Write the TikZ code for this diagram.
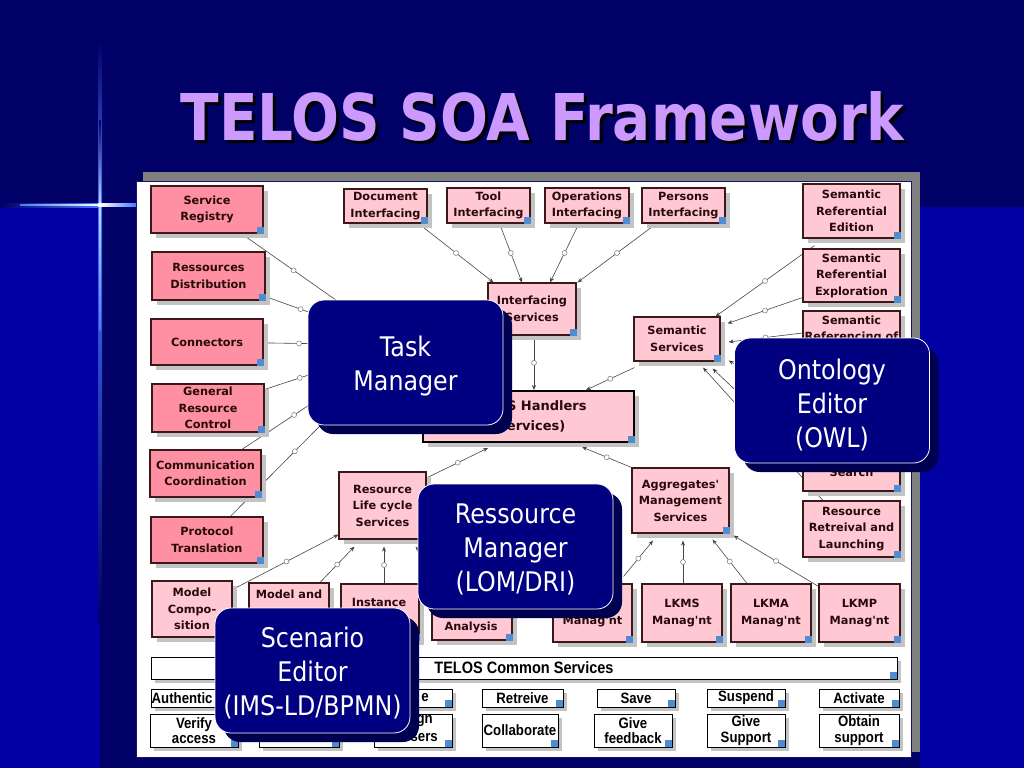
\documentclass[tikz,border=0pt]{standalone}
\usepackage{fontspec}
\usepackage{graphicx}
\usetikzlibrary{arrows.meta,shadows}
\setmainfont{DejaVu Sans}
\newfontfamily\OvFam[FakeStretch=0.88]{DejaVu Sans}
\newfontfamily\BtFam[FakeStretch=0.88]{Liberation Sans}
\newcommand\OvFont{\OvFam\fontsize{27}{34}\selectfont}
\newcommand\BxFont{\fontsize{11.3}{16.5}\selectfont\bfseries}
\newcommand\HdFont{\fontsize{13}{20}\selectfont\bfseries}
\newcommand\BtFont{\BtFam\bfseries\fontsize{15}{15.5}\selectfont}
\newcommand\TcFont{\BtFam\bfseries\fontsize{16.5}{17}\selectfont}
\newcommand\TitleFont{\fontsize{64.5}{70}\selectfont\bfseries}
\newcommand\Apos{\textquotesingle}
\definecolor{navyD}{RGB}{0,0,102}
\definecolor{blueL}{RGB}{0,0,165}
\definecolor{glowblue}{RGB}{70,120,255}
\definecolor{ovfill}{RGB}{0,0,128}
\definecolor{ovshadow}{RGB}{0,0,80}
\definecolor{pinkL}{RGB}{255,200,210}
\definecolor{pinkD}{RGB}{255,143,163}
\definecolor{bxborder}{RGB}{60,25,25}
\definecolor{bxtext}{RGB}{40,10,10}
\definecolor{cornerblue}{RGB}{80,140,210}
\definecolor{titlecol}{RGB}{204,153,255}
\definecolor{connc}{RGB}{70,70,70}
\definecolor{dotc}{RGB}{120,120,120}
\definecolor{framegray}{RGB}{128,128,128}
\definecolor{frameline}{RGB}{20,20,110}
\definecolor{shadowgray}{RGB}{195,195,195}
\pgfdeclarelayer{back}
\pgfdeclarelayer{lines}
\pgfdeclarelayer{front}
\pgfsetlayers{back,lines,main,front}
\tikzset{
  pbox/.style={draw=bxborder, line width=1.1pt, fill=pinkL, text=bxtext, font=\BxFont,
    align=center, inner sep=0pt,
    drop shadow={shadow xshift=5pt, shadow yshift=-5pt, fill=shadowgray, opacity=1}},
  dbox/.style={pbox, fill=pinkD},
  wbox/.style={draw=black, line width=0.9pt, fill=white, text=black, font=\BtFont,
    align=center, inner sep=0pt,
    drop shadow={shadow xshift=4pt, shadow yshift=-4pt, fill=shadowgray, opacity=1}},
  frag/.style={text=bxtext, font=\BxFont, align=center, inner sep=0pt},
  wfrag/.style={text=black, font=\BtFont, inner sep=0pt},
  ovbox/.style={rounded corners=16pt, fill=ovfill, draw=white, line width=0.8pt,
    inner sep=0pt, minimum width=195pt, minimum height=125pt,
    drop shadow={shadow xshift=9pt, shadow yshift=-9pt, fill=ovshadow, opacity=1}},
  ovtext/.style={text=white, font=\OvFont, align=center, inner sep=0pt},
  conline/.style={draw=connc, line width=0.6pt},
  arr/.style={conline, -{Stealth[length=5pt,width=4pt]}},
  dot/.style={circle, draw=dotc, fill=white, minimum size=5pt, inner sep=0pt, line width=0.5pt}
}
\begin{document}
\begin{tikzpicture}[x=1pt,y=-1pt]
\useasboundingbox (0,0) rectangle (1024,768);
\begin{pgfonlayer}{back}
\fill[navyD] (0,0) rectangle (1024,768);
\fill[blueL] (0,205) rectangle (100,768);
\fill[blueL] (920,207) rectangle (1024,768);
% glow lines
\shade[top color=navyD, bottom color=glowblue] (98,40) rectangle (102,205);
\shade[top color=glowblue, bottom color=navyD] (98,205) rectangle (102,620);
\shade[top color=navyD, bottom color=white!70!glowblue] (99.3,120) rectangle (100.7,205);
\shade[top color=white!70!glowblue, bottom color=glowblue] (99.3,205) rectangle (100.7,330);
\shade[left color=navyD, right color=glowblue] (0,203) rectangle (100,207);
\shade[left color=glowblue, right color=white] (20,204.3) rectangle (100,205.7);
\shade[left color=white, right color=glowblue] (100,203.5) rectangle (136,206.5);
\fill[white] (100,205) circle (2.5);
% diagram frame
\fill[framegray] (143,172) rectangle (920,752);
\filldraw[fill=white, draw=frameline, line width=0.7pt] (136,181) rectangle (911,757);
\end{pgfonlayer}

% title
\node[anchor=base, text=black, inner sep=0pt] (titleS) at (545.5,143) {\TitleFont\scalebox{0.875}[1]{TELOS SOA Framework}};
\node[anchor=base, text=titlecol, inner sep=0pt] (title) at (542.5,140) {\TitleFont\scalebox{0.875}[1]{TELOS SOA Framework}};

% left column
\node[dbox, minimum width=112pt, minimum height=47pt] (sreg) at (207,209.5) {Service\\Registry};
\node[dbox, minimum width=113pt, minimum height=48pt] (rdist) at (208.5,276) {Ressources\\Distribution};
\node[dbox, minimum width=112pt, minimum height=46pt] (conn) at (207,342) {Connectors};
\node[dbox, minimum width=112pt, minimum height=48pt] (grc) at (208,408) {General\\Resource\\Control};
\node[dbox, minimum width=111pt, minimum height=47pt] (comm) at (205.5,473.5) {Communication\\Coordination};
\node[dbox, minimum width=112pt, minimum height=46pt] (prot) at (207,540) {Protocol\\Translation};

% top interfacing row
\node[pbox, minimum width=83pt, minimum height=34pt] (doc) at (385.5,206) {Document\\Interfacing};
\node[pbox, minimum width=83pt, minimum height=35pt] (tool) at (488.5,205.5) {Tool\\Interfacing};
\node[pbox, minimum width=84pt, minimum height=35pt] (oper) at (587,205.5) {Operations\\Interfacing};
\node[pbox, minimum width=83pt, minimum height=35pt] (pers) at (683.5,205.5) {Persons\\Interfacing};

% middle
\node[pbox, minimum width=88pt, minimum height=52pt] (isvc) at (532,309) {Interfacing\\Services};
\node[pbox, minimum width=86pt, minimum height=44pt] (ssvc) at (677,339) {Semantic\\Services};
\node[pbox, draw=black, line width=2pt, font=\HdFont, minimum width=211pt, minimum height=51pt] (hand) at (528.5,416.5) {TELOS Handlers\\(Services)};
\node[pbox, minimum width=87pt, minimum height=67pt] (rlc) at (382.5,505.5) {Resource\\Life cycle\\Services};
\node[pbox, minimum width=97pt, minimum height=65pt] (agg) at (680.5,500.5) {Aggregates\Apos\\Management\\Services};

% lower row
\node[pbox, minimum width=80pt, minimum height=56pt] (mcomp) at (192,609) {Model\\Compo-\\sition};
\node[pbox, minimum width=80pt, minimum height=57pt] (mand) at (289,611.5) {};
\node[frag] (mandT) at (289,594) {Model and};
\node[pbox, minimum width=78pt, minimum height=56pt] (inst) at (380,612) {};
\node[frag] (instT) at (379,602) {Instance};
\node[pbox, minimum width=80pt, minimum height=56pt] (anal) at (472,612) {};
\node[frag] (analT) at (471,627) {Analysis};
\node[pbox, minimum width=79pt, minimum height=58pt] (lkmx) at (592.5,613) {};
\node[frag] (lkmxT) at (592.5,621.5) {Manag\Apos nt};
\node[pbox, minimum width=80pt, minimum height=58pt] (lkms) at (682,613) {LKMS\\Manag\Apos nt};
\node[pbox, minimum width=80pt, minimum height=58pt] (lkma) at (771,613) {LKMA\\Manag\Apos nt};
\node[pbox, minimum width=81pt, minimum height=58pt] (lkmp) at (859.5,613) {LKMP\\Manag\Apos nt};

% right column
\node[pbox, minimum width=97pt, minimum height=54pt] (sre) at (851.5,211) {Semantic\\Referential\\Edition};
\node[pbox, minimum width=97pt, minimum height=53pt] (srx) at (851.5,275.5) {Semantic\\Referential\\Exploration};
\node[pbox, minimum width=97pt, minimum height=54pt] (srr) at (851.5,338) {};
\node[frag] (srrT) at (851.5,329.5) {Semantic\\Referencing of};
\node[pbox, minimum width=97pt, minimum height=53pt] (srh) at (851.5,401.5) {};
\node[pbox, minimum width=97pt, minimum height=53pt] (ssearch) at (851.5,464.5) {};
\node[frag] (searchT) at (851.5,472) {Search};
\node[pbox, minimum width=97pt, minimum height=56pt] (rrl) at (851.5,529) {Resource\\Retreival and\\Launching};

% common services
\node[wbox, font=\TcFont, minimum width=746pt, minimum height=22pt] (tcs) at (524,668) {TELOS Common Services};
\node[wbox, minimum width=89pt, minimum height=18pt] (auth) at (195.5,698) {};
\node[wfrag, anchor=west] (authT) at (151.5,698) {Authentic};
\node[wbox, minimum width=88pt, minimum height=33pt] (verify) at (194,730.5) {Verify\\access};
\node[wbox, minimum width=80pt, minimum height=33pt] (c2b) at (299,730.5) {};
\node[wbox, minimum width=78pt, minimum height=18pt] (c3a) at (413,698) {};
\node[wfrag, anchor=east] (c3aT) at (429,698) {e};
\node[wbox, minimum width=78pt, minimum height=33pt] (c3b) at (413,730.5) {};
\node[wfrag, anchor=east] (c3bT1) at (433,721) {gn};
\node[wfrag, anchor=east] (c3bT2) at (438,738) {sers};
\node[wbox, minimum width=81pt, minimum height=18pt] (retr) at (522.5,698) {Retreive};
\node[wbox, minimum width=76pt, minimum height=33pt] (collab) at (520,730.5) {Collaborate};
\node[wbox, minimum width=78pt, minimum height=18pt] (save) at (636,698) {Save};
\node[wbox, minimum width=78pt, minimum height=33pt] (givef) at (633,730.5) {Give\\feedback};
\node[wbox, minimum width=78pt, minimum height=18pt] (susp) at (746,698) {Suspend};
\node[wbox, minimum width=78pt, minimum height=33pt] (gives) at (746,730.5) {Give\\Support};
\node[wbox, minimum width=80pt, minimum height=18pt] (activ) at (859,698) {Activate};
\node[wbox, minimum width=80pt, minimum height=33pt] (obtain) at (859,730.5) {Obtain\\support};

% corner squares
\foreach \n in {sreg,rdist,conn,grc,comm,prot,doc,tool,oper,pers,isvc,ssvc,hand,rlc,agg,
  mcomp,mand,inst,anal,lkmx,lkms,lkma,lkmp,sre,srx,srr,srh,ssearch,rrl,
  tcs,auth,verify,c2b,c3a,c3b,retr,collab,save,givef,susp,gives,activ,obtain}
  \fill[cornerblue] ([shift={(-7pt,0pt)}]\n.south east) rectangle ([shift={(0pt,7pt)}]\n.south east);

% connectors
\begin{pgfonlayer}{lines}
\coordinate (tmhub) at (400,345);
\draw[arr] (sreg) -- node[dot,pos=.33]{} (tmhub);
\draw[arr] (rdist) -- node[dot,pos=.26]{} (tmhub);
\draw[arr] (conn) -- node[dot,pos=.26]{} (tmhub);
\draw[arr] (grc) -- node[dot,pos=.26]{} (tmhub);
\draw[arr] (comm) -- node[dot,pos=.33]{} (tmhub);
\draw[arr] (prot) -- node[dot,pos=.38]{} (tmhub);
\draw[arr] ([xshift=-9pt]doc.south east) -- node[dot]{} ([xshift=6pt]isvc.north west);
\draw[arr] ([xshift=11pt]tool.south) -- node[dot]{} ([xshift=-10pt]isvc.north);
\draw[arr] ([xshift=-8pt]oper.south) -- node[dot]{} ([xshift=18pt]isvc.north);
\draw[arr] ([xshift=15pt]pers.south west) -- node[dot]{} ([xshift=1pt]isvc.north east);
\draw[arr] ([xshift=2pt]isvc.south) -- node[dot]{} ([xshift=5.5pt]hand.north);
\draw[arr] ([shift={(1pt,-6pt)}]ssvc.south west) -- node[dot]{} ([xshift=-49pt]hand.north east);
\draw[arr] ([shift={(1pt,-6pt)}]rlc.north east) -- node[dot]{} ([shift={(-40.5pt,-5pt)}]hand.south);
\draw[arr] (agg.north west) -- node[dot]{} ([shift={(53.5pt,-4pt)}]hand.south);
\draw[arr] ([shift={(2pt,-8pt)}]mcomp.north east) -- node[dot]{} ([yshift=5pt]rlc.south west);
\draw[arr] ([xshift=31pt]mand.north) -- node[dot]{} ([shift={(16pt,-7pt)}]rlc.south west);
\draw[arr] ([xshift=4pt]inst.north) -- node[dot]{} ([shift={(1.5pt,-7pt)}]rlc.south);
\draw[arr] ([xshift=-25pt]anal.north) -- node[dot]{} ([shift={(-11pt,-7pt)}]rlc.south east);
\draw[arr] ([shift={(-9pt,7pt)}]lkmx.north east) -- node[dot]{} ([shift={(-27.5pt,-7pt)}]agg.south);
\draw[arr] ([xshift=1pt]lkms.north) -- node[dot]{} ([shift={(2.5pt,-7pt)}]agg.south);
\draw[arr] ([xshift=-24pt]lkma.north) -- node[dot]{} ([shift={(-17pt,-6pt)}]agg.south east);
\draw[arr] ([yshift=-3pt]lkmp.north west) -- node[dot]{} ([shift={(4pt,-2pt)}]agg.south east);
\draw[arr] ([shift={(12pt,-7pt)}]sre.south west) -- node[dot]{} ([xshift=-5pt]ssvc.north east);
\draw[arr] ([yshift=5pt]srx.south west) -- node[dot]{} ([shift={(7pt,-7pt)}]ssvc.north east);
\draw[arr] ([yshift=5pt]srr.west) -- node[dot]{} ([shift={(8pt,-3pt)}]ssvc.east);
\draw[arr] (srh.west) -- node[dot]{} ([shift={(8pt,1pt)}]ssvc.south east);
\draw[arr] ([yshift=-16pt]ssearch.north west) -- node[dot]{} ([shift={(-8pt,-7pt)}]ssvc.south east);
\draw[arr] ([xshift=-28.5pt]rrl.north) -- node[dot]{} ([shift={(26pt,-6pt)}]ssvc.south);
\end{pgfonlayer}

% overlays
\begin{pgfonlayer}{front}
\node[ovbox] (tm) at (405.5,362.5) {};
\node[ovtext] (tmT) at (405.5,366) {Task\\Manager};
\node[ovbox] (onto) at (832,400.5) {};
\node[ovtext] (ontoT) at (832,405.5) {Ontology\\Editor\\(OWL)};
\node[ovbox] (resm) at (515.5,546.5) {};
\node[ovtext] (resmT) at (515.5,549) {Ressource\\Manager\\(LOM/DRI)};
\node[ovbox] (scen) at (312.5,670.5) {};
\node[ovtext] (scenT) at (312.5,673.5) {Scenario\\Editor\\(IMS-LD/BPMN)};
\end{pgfonlayer}
\end{tikzpicture}
\end{document}
